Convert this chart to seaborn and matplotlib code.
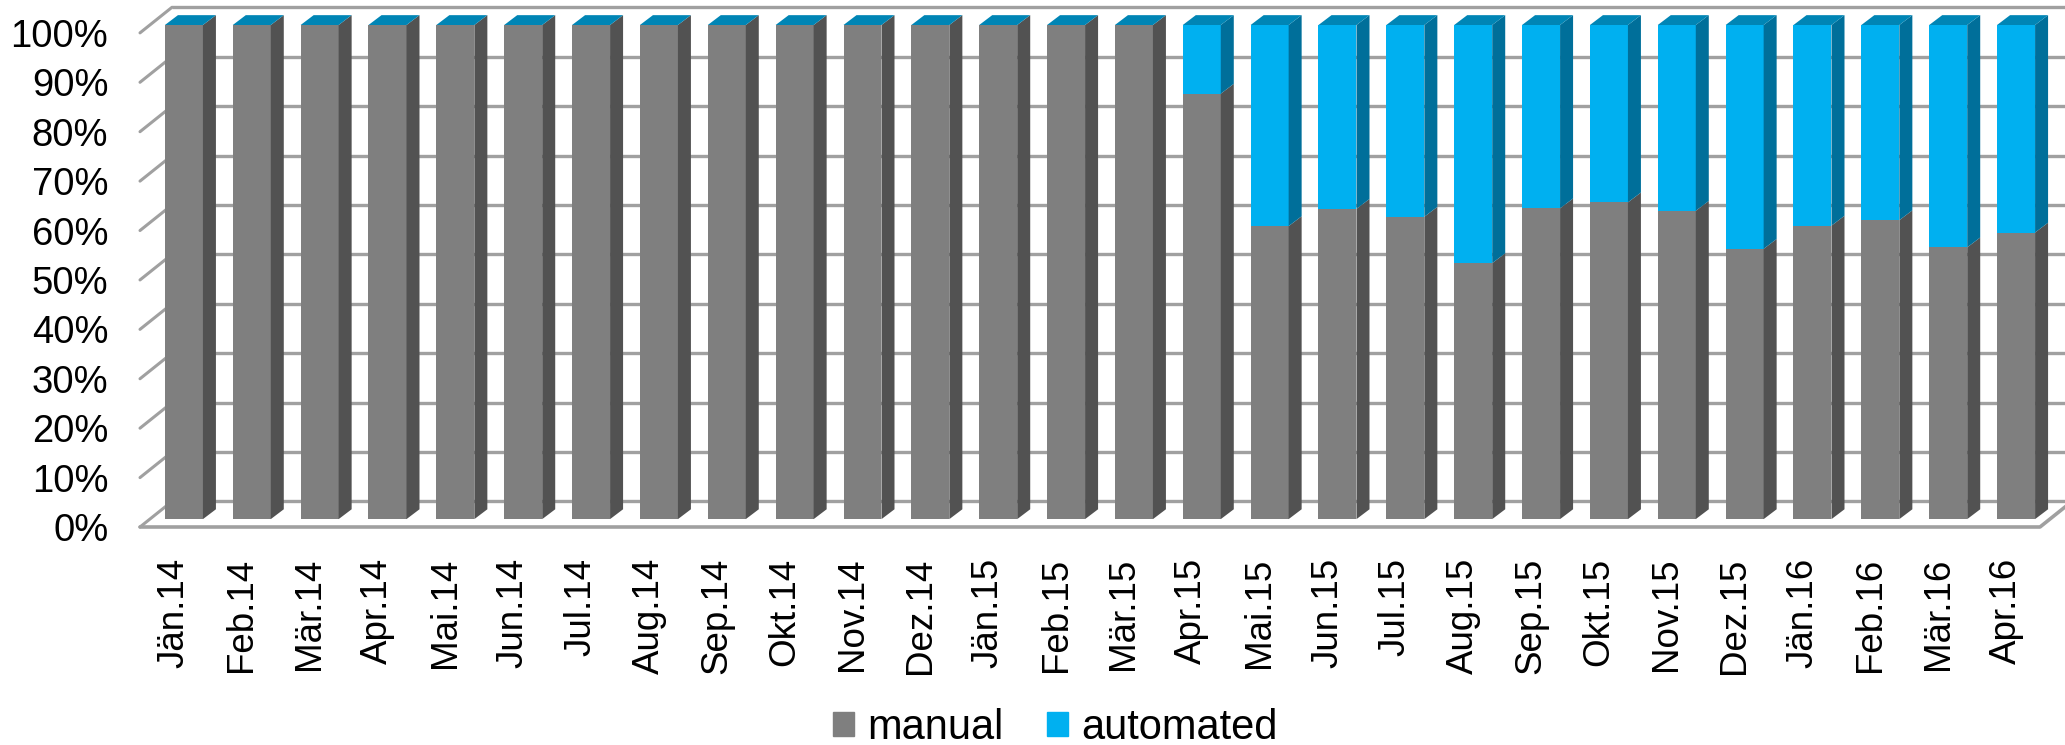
import pandas as pd
import matplotlib
matplotlib.use('Agg')
import matplotlib.pyplot as plt
from matplotlib.patches import Polygon, Patch
import seaborn as sns

# monthly share of manual vs automated (in %)
months = ['Jän.14', 'Feb.14', 'Mär.14', 'Apr.14', 'Mai.14', 'Jun.14', 'Jul.14',
          'Aug.14', 'Sep.14', 'Okt.14', 'Nov.14', 'Dez.14',
          'Jän.15', 'Feb.15', 'Mär.15', 'Apr.15', 'Mai.15', 'Jun.15', 'Jul.15',
          'Aug.15', 'Sep.15', 'Okt.15', 'Nov.15', 'Dez.15',
          'Jän.16', 'Feb.16', 'Mär.16', 'Apr.16']
manual = [100, 100, 100, 100, 100, 100, 100, 100, 100, 100, 100, 100,
          100, 100, 100, 86.1, 59.3, 62.8, 61.2, 51.8, 62.9, 64.1, 62.4, 54.7,
          59.4, 60.5, 55.0, 58.0]
automated = [0, 0, 0, 0, 0, 0, 0, 0, 0, 0, 0, 0,
             0, 0, 0, 13.9, 40.7, 37.2, 38.8, 48.2, 37.1, 35.9, 37.6, 45.3,
             40.6, 39.5, 45.0, 42.0]
ytick_values = [0, 10, 20, 30, 40, 50, 60, 70, 80, 90, 100]
ytick_labels = ['0%', '10%', '20%', '30%', '40%', '50%', '60%', '70%', '80%', '90%', '100%']
series_names = ['manual', 'automated']

gray = '#7f7f7f'
gray_side = '#525252'
blue = '#00b0f0'
blue_side = '#006f9a'
blue_top = '#0085b5'
grid_c = '#a0a0a0'

sns.set_style('white')
plt.rcParams['font.family'] = ['Liberation Sans', 'DejaVu Sans']
plt.rcParams['text.color'] = 'black'

W, H = 2065, 745
fig = plt.figure(figsize=(W / 100, H / 100), dpi=100)
# axes = plane of the bar front faces
ax = fig.add_axes([150 / W, 1 - 527 / H, 1900 / W, 502 / H])

df = pd.DataFrame({'month': months, 'manual': manual, 'automated': automated})
df['total'] = df['manual'] + df['automated']

sns.barplot(data=df, x='month', y='total', color=blue, saturation=1, width=0.56,
            linewidth=0, errorbar=None, ax=ax, zorder=3)
sns.barplot(data=df, x='month', y='manual', color=gray, saturation=1, width=0.56,
            linewidth=0, errorbar=None, ax=ax, zorder=3)

n = len(df)
ax.set_xlim(-0.5, n - 0.5)
ax.set_ylim(0, 100)

# pixel -> data units
ux = n / 1900
uy = 100 / 502

# fake 3d depth of the bars
ddx, ddy = 13 * ux, 10 * uy
for p_tot, p_man in zip(ax.patches[:n], ax.patches[n:2 * n]):
    x0 = p_tot.get_x()
    x1 = x0 + p_tot.get_width()
    m = p_man.get_height()
    t = p_tot.get_height()
    ax.add_patch(Polygon([(x1, 0), (x1 + ddx, ddy), (x1 + ddx, m + ddy), (x1, m)],
                         closed=True, fc=gray_side, lw=0, zorder=3, clip_on=False))
    ax.add_patch(Polygon([(x1, m), (x1 + ddx, m + ddy), (x1 + ddx, t + ddy), (x1, t)],
                         closed=True, fc=blue_side, lw=0, zorder=3, clip_on=False))
    ax.add_patch(Polygon([(x0, t), (x1, t), (x1 + ddx, t + ddy), (x0 + ddx, t + ddy)],
                         closed=True, fc=blue_top, lw=0, zorder=3, clip_on=False))

# back wall gridlines and left slants, front = (-10,-8) px, back = (+22,+18) px
fx, fy = -10 * ux, -8 * uy
bx, by = 22 * ux, 18 * uy
xl, xr = -0.5, n - 0.5
for v in ytick_values:
    ax.plot([xl + bx, xr + bx], [v + by, v + by], color=grid_c, lw=2.4,
            zorder=1, clip_on=False, solid_capstyle='butt')
    ax.plot([xl + fx, xl + bx], [v + fy, v + by], color=grid_c, lw=2.2,
            zorder=1, clip_on=False)
# floor
ax.plot([xl + fx, xr + fx, xr + bx], [fy, fy, by], color=grid_c, lw=2.6,
        zorder=1, clip_on=False)

# tick labels sit on the front plane
ax.set_yticks([v + fy for v in ytick_values])
ax.set_yticklabels(ytick_labels)
ax.set_xticks([i + fx for i in range(n)])
ax.set_xticklabels(months, rotation=90)
ax.tick_params(axis='y', length=0, pad=30, labelsize=27.5, colors='black')
ax.tick_params(axis='x', length=0, pad=22, labelsize=26.5, colors='black')
ax.set_xlabel('')
ax.set_ylabel('')
for s in ax.spines.values():
    s.set_visible(False)

handles = [Patch(color=gray), Patch(color=blue)]
fig.legend(handles, series_names, loc='center', bbox_to_anchor=(1055 / W, 1 - 728 / H),
           ncol=2, frameon=False, fontsize=30, handlelength=0.52, handleheight=0.52,
           handletextpad=0.3, columnspacing=1.05, borderaxespad=0, labelcolor='black')

fig.savefig('out.png', dpi=100)
